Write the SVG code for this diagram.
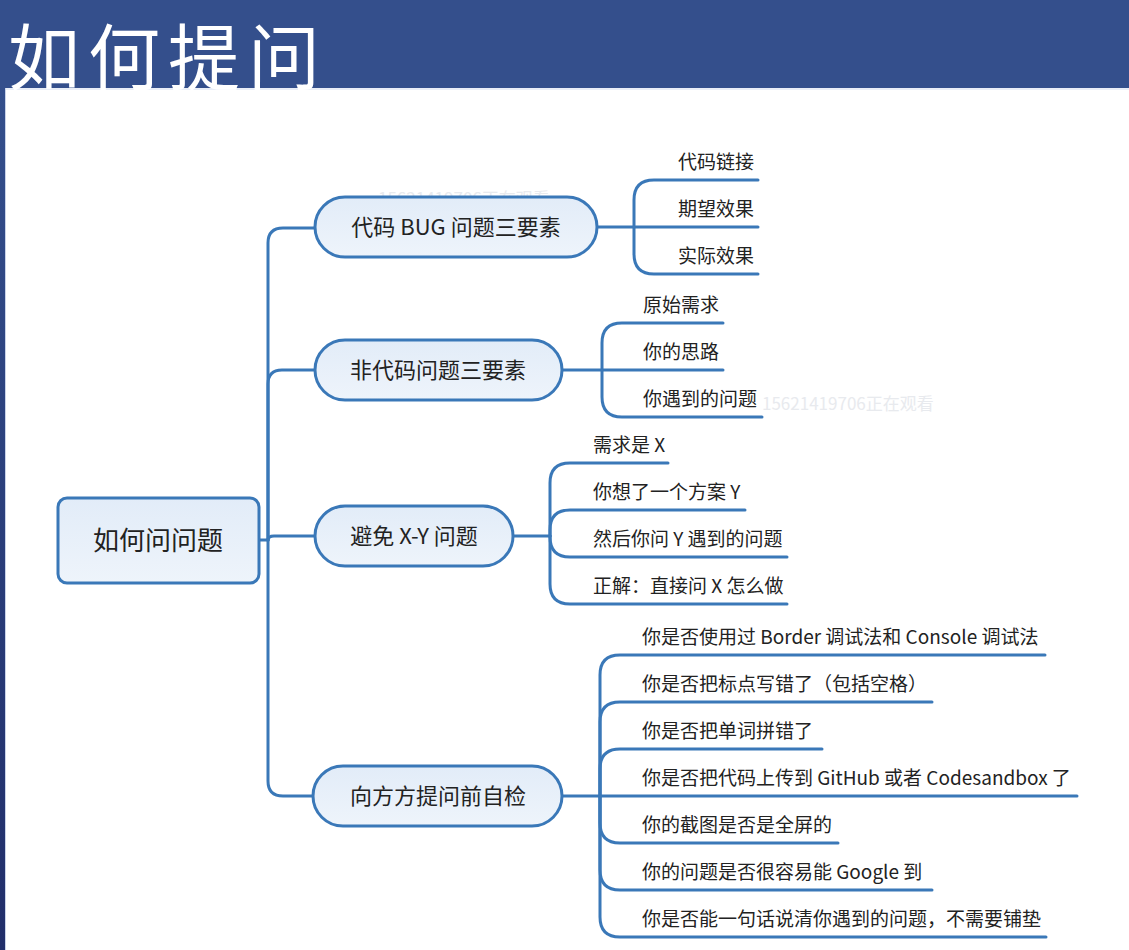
<svg xmlns="http://www.w3.org/2000/svg" width="1129" height="950" viewBox="0 0 1129 950">
  <defs>
    <linearGradient id="nodeFill" x1="0" y1="0" x2="0" y2="1">
      <stop offset="0" stop-color="#e2ecf8"/>
      <stop offset="1" stop-color="#eef4fb"/>
    </linearGradient>
    <linearGradient id="strip" x1="0" y1="0" x2="0" y2="1">
      <stop offset="0" stop-color="#344f8c"/>
      <stop offset="1" stop-color="#212e6a"/>
    </linearGradient>
  </defs>
  <style>
    .node { fill: url(#nodeFill); stroke: #3a78b8; stroke-width: 3; }
    .conn { fill: none; stroke: #3a78b8; stroke-width: 3; stroke-linecap: round; }
    .t1 { font-family: "Noto Sans CJK SC", "Noto Sans", sans-serif; font-size: 22px; fill: #222; text-anchor: middle; }
    .t0 { font-family: "Noto Sans CJK SC", "Noto Sans", sans-serif; font-size: 26px; fill: #222; text-anchor: middle; }
    .t2 { font-family: "Noto Sans CJK SC", "Noto Sans", sans-serif; font-size: 19px; fill: #222; }
    .wm { font-family: "Noto Sans CJK SC", "Noto Sans", sans-serif; font-size: 17px; fill: #e8eaee; }
    .title { font-family: "Noto Sans CJK SC", "Noto Sans", sans-serif; font-size: 72px; letter-spacing: 8px; fill: #ffffff; }
  </style>

  <rect x="0" y="0" width="1129" height="950" fill="#ffffff"/>
  <rect x="0" y="0" width="1129" height="88" fill="#344f8c"/>
  <rect x="0" y="88" width="1129" height="2" fill="#e9eef8"/>
  <rect x="0" y="88" width="5" height="862" fill="url(#strip)"/>
  <rect x="5" y="88" width="1" height="862" fill="#c9d3ea"/>
  <text class="title" x="8" y="84">如何提问</text>

  <text class="wm" x="378" y="205">15621419706正在观看</text>
  <text class="wm" x="762" y="410">15621419706正在观看</text>

  <g id="connectors">
    <!-- trunk -->
    <path class="conn" d="M259,540 H268"/>
    <path class="conn" d="M268,540 V243 Q268,228 283,228 H315"/>
    <path class="conn" d="M268,540 V384 Q268,370 282,370 H315"/>
    <path class="conn" d="M268,540 Q268,536 274,536 H315"/>
    <path class="conn" d="M268,540 V781 Q268,796 283,796 H313"/>
    <!-- node 1 children -->
    <path class="conn" d="M597,227 H758"/>
    <path class="conn" d="M634,227 V200 Q634,180 654,180 H758"/>
    <path class="conn" d="M634,227 V254 Q634,274 654,274 H758"/>
    <!-- node 2 children -->
    <path class="conn" d="M562,370 H723"/>
    <path class="conn" d="M602,370 V343 Q602,323 622,323 H723"/>
    <path class="conn" d="M602,370 V397 Q602,417 622,417 H762"/>
    <!-- node 3 children -->
    <path class="conn" d="M513,536 H550"/>
    <path class="conn" d="M550,536 V483 Q550,463 570,463 H668"/>
    <path class="conn" d="M550,536 V530 Q550,510 570,510 H745"/>
    <path class="conn" d="M550,536 V537 Q550,557 570,557 H787"/>
    <path class="conn" d="M550,536 V584 Q550,604 570,604 H787"/>
    <!-- node 4 children -->
    <path class="conn" d="M562,796 H1077"/>
    <path class="conn" d="M600,796 V675 Q600,655 620,655 H1045"/>
    <path class="conn" d="M600,796 V722 Q600,702 620,702 H932"/>
    <path class="conn" d="M600,796 V769 Q600,749 620,749 H822"/>
    <path class="conn" d="M600,796 V823 Q600,843 620,843 H838"/>
    <path class="conn" d="M600,796 V870 Q600,890 620,890 H932"/>
    <path class="conn" d="M600,796 V917 Q600,937 620,937 H1046"/>
  </g>

  <g id="root">
    <rect class="node" x="58" y="498" width="201" height="85" rx="9"/>
    <text class="t0" x="158" y="550">如何问问题</text>
  </g>

  <g id="n1">
    <rect class="node" x="315" y="197" width="282" height="60" rx="30"/>
    <text class="t1" x="456" y="235">代码 BUG 问题三要素</text>
  </g>
  <g id="n1-c1"><text class="t2" x="678" y="169">代码链接</text></g>
  <g id="n1-c2"><text class="t2" x="678" y="216">期望效果</text></g>
  <g id="n1-c3"><text class="t2" x="678" y="263">实际效果</text></g>

  <g id="n2">
    <rect class="node" x="315" y="340" width="247" height="60" rx="30"/>
    <text class="t1" x="438" y="378">非代码问题三要素</text>
  </g>
  <g id="n2-c1"><text class="t2" x="643" y="312">原始需求</text></g>
  <g id="n2-c2"><text class="t2" x="643" y="359">你的思路</text></g>
  <g id="n2-c3"><text class="t2" x="643" y="406">你遇到的问题</text></g>

  <g id="n3">
    <rect class="node" x="315" y="506" width="198" height="60" rx="30"/>
    <text class="t1" x="414" y="544">避免 X-Y 问题</text>
  </g>
  <g id="n3-c1"><text class="t2" x="593" y="452">需求是 X</text></g>
  <g id="n3-c2"><text class="t2" x="593" y="499">你想了一个方案 Y</text></g>
  <g id="n3-c3"><text class="t2" x="593" y="546">然后你问 Y 遇到的问题</text></g>
  <g id="n3-c4"><text class="t2" x="593" y="593">正解：直接问 X 怎么做</text></g>

  <g id="n4">
    <rect class="node" x="313" y="766" width="249" height="60" rx="30"/>
    <text class="t1" x="438" y="804">向方方提问前自检</text>
  </g>
  <g id="n4-c1"><text class="t2" x="642" y="644">你是否使用过 Border 调试法和 Console 调试法</text></g>
  <g id="n4-c2"><text class="t2" x="642" y="691">你是否把标点写错了（包括空格）</text></g>
  <g id="n4-c3"><text class="t2" x="642" y="738">你是否把单词拼错了</text></g>
  <g id="n4-c4"><text class="t2" x="642" y="785">你是否把代码上传到 GitHub 或者 Codesandbox 了</text></g>
  <g id="n4-c5"><text class="t2" x="642" y="832">你的截图是否是全屏的</text></g>
  <g id="n4-c6"><text class="t2" x="642" y="879">你的问题是否很容易能 Google 到</text></g>
  <g id="n4-c7"><text class="t2" x="642" y="926">你是否能一句话说清你遇到的问题，不需要铺垫</text></g>
</svg>
